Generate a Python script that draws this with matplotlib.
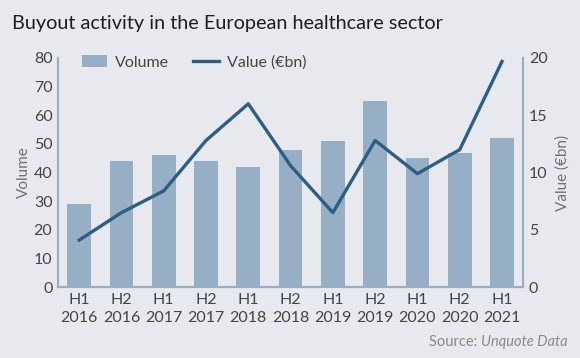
import matplotlib.pyplot as plt
import numpy as np

# chart data
periods = ["H1\n2016", "H2\n2016", "H1\n2017", "H2\n2017", "H1\n2018", "H2\n2018",
           "H1\n2019", "H2\n2019", "H1\n2020", "H2\n2020", "H1\n2021"]
volume = [29, 44, 46, 44, 42, 48, 51, 65, 45, 47, 52]
value_bn = [4.1, 6.5, 8.4, 12.8, 16.0, 10.6, 6.5, 12.8, 9.9, 12.0, 19.7]

bg = "#e8e9ee"
bar_col = "#97afc4"
line_col = "#2c5f85"
text_col = "#444444"
label_col = "#707070"

plt.rcParams["font.family"] = ["Lato", "DejaVu Sans"]

fig = plt.figure(figsize=(5.8, 3.58), dpi=100)
fig.set_facecolor(bg)
ax = fig.add_axes([0.1, 0.198, 0.802, 0.64])
ax.set_facecolor(bg)
ax2 = ax.twinx()

x = np.arange(len(periods))
ax.bar(x, volume, width=0.56, color=bar_col, label="Volume", zorder=2)
ax2.plot(x, value_bn, color=line_col, lw=2.4, label="Value (€bn)", zorder=3)

ax.set_xlim(-0.5, 10.5)
ax.set_ylim(0, 80)
ax2.set_ylim(0, 20)
ax.set_yticks(range(0, 81, 10))
ax2.set_yticks(range(0, 21, 5))
ax.set_xticks(x)
ax.set_xticklabels(periods, linespacing=1.35)

for a in (ax, ax2):
    a.spines["top"].set_visible(False)
    for s in ("left", "right", "bottom"):
        a.spines[s].set_color(bar_col)
        a.spines[s].set_linewidth(1.5)
    a.tick_params(length=0, labelsize=11.5, colors=text_col, pad=4)

ax.set_ylabel("Volume", fontsize=11, color=label_col, labelpad=2)
ax2.set_ylabel("Value (€bn)", fontsize=11, color=label_col, labelpad=6)

h1, l1 = ax.get_legend_handles_labels()
h2, l2 = ax2.get_legend_handles_labels()
ax.legend(h1 + h2, l1 + l2, loc="upper left", bbox_to_anchor=(0.02, 1.075), ncol=2,
          frameon=False, fontsize=11.5, labelcolor=text_col, handlelength=1.6,
          columnspacing=1.5, handletextpad=0.5)

fig.text(0.02, 0.935, "Buyout activity in the European healthcare sector",
         fontsize=14.3, color="#1e1e1e", va="center")
fig.text(0.978, 0.045, "Source: ", fontsize=10.5, color="#8a8a8a", ha="right", va="center")
src = fig.text(0.978, 0.045, "Unquote Data", fontsize=10.5, color="#8a8a8a",
               style="italic", ha="right", va="center")
fig.canvas.draw()
w = src.get_window_extent().width / fig.bbox.width
fig.texts[-2].set_position((0.978 - w, 0.045))

fig.savefig("out.png", dpi=100, facecolor=bg)
